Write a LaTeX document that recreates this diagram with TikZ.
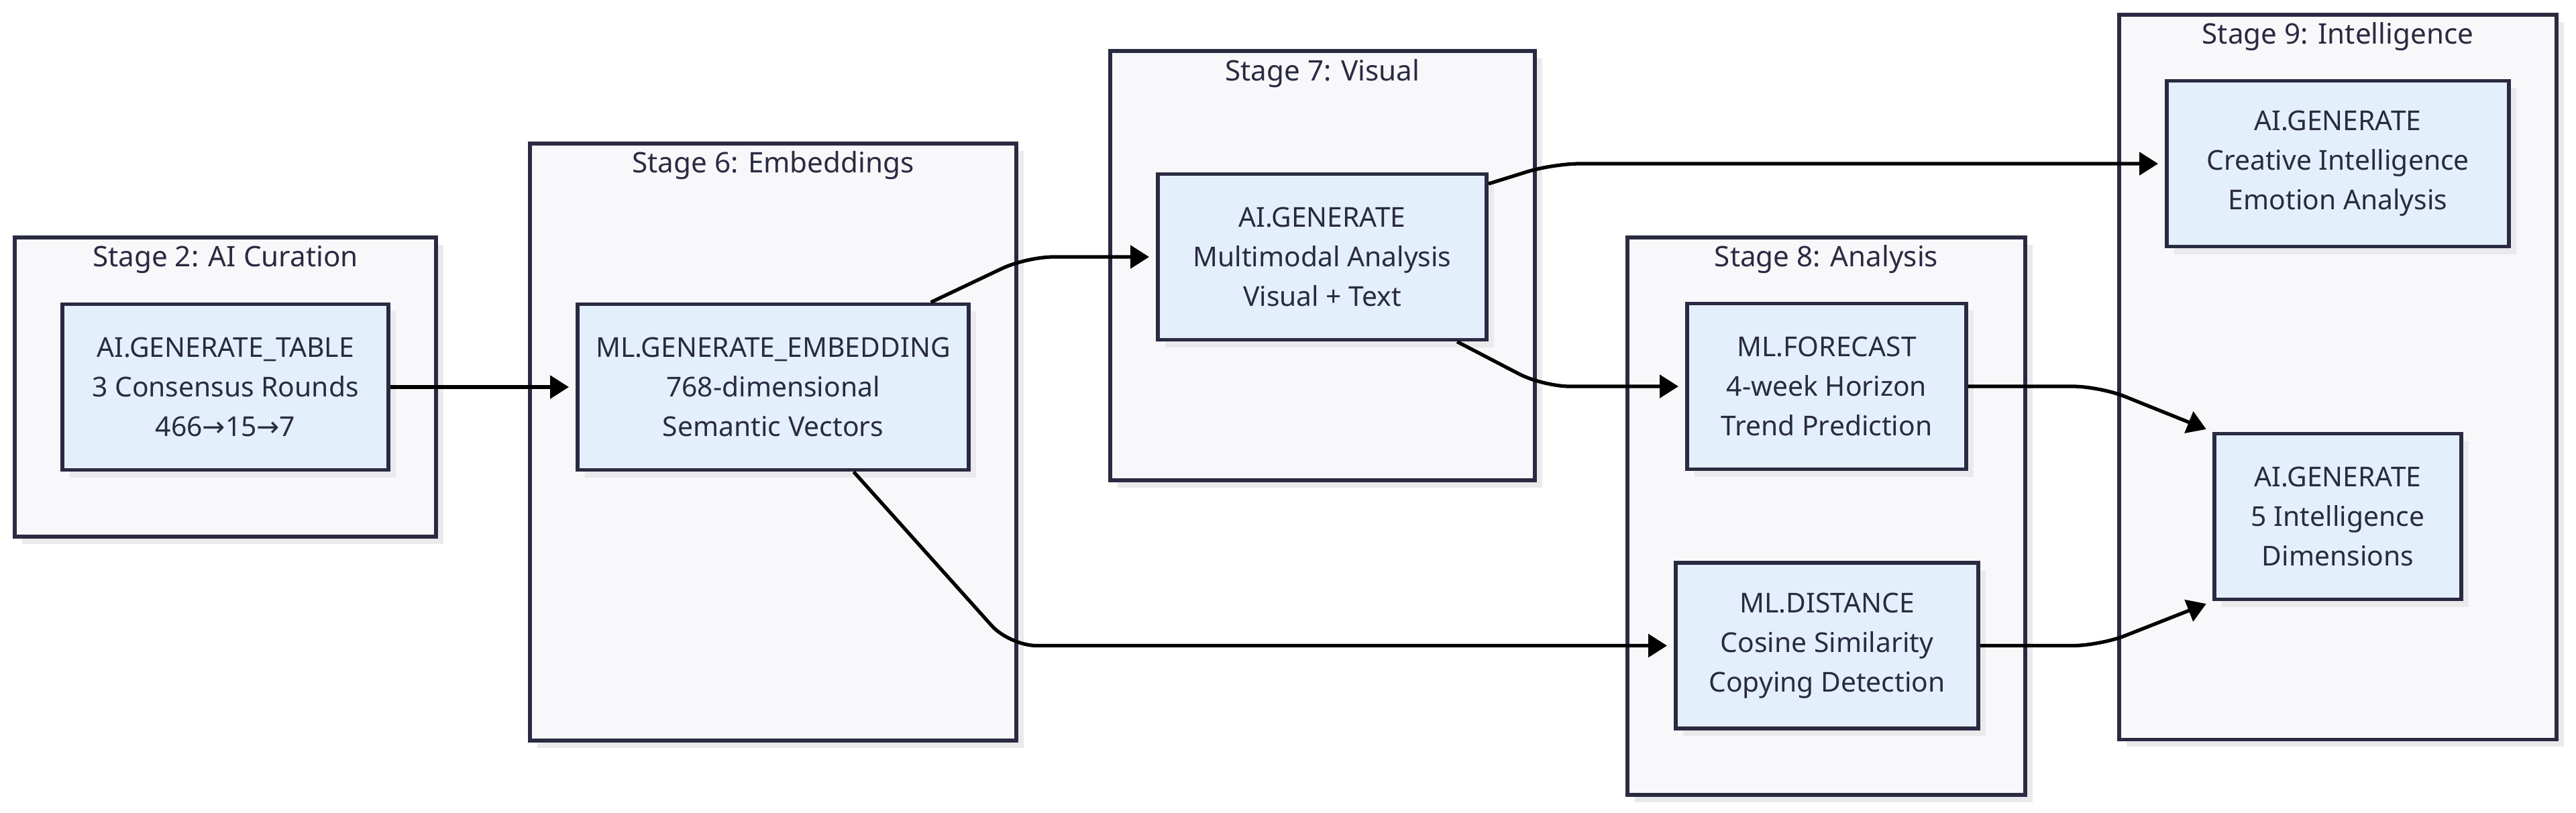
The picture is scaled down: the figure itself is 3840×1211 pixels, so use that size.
\documentclass[tikz,border=0pt]{standalone}
\usepackage{fontspec}
\setmainfont{Noto Sans}
\newfontfamily\arrowfont{DejaVu Sans}
\usetikzlibrary{arrows.meta,shadows}
\definecolor{stageback}{RGB}{248,248,250}
\definecolor{stepback}{RGB}{227,240,252}
\definecolor{inkline}{RGB}{42,42,66}
\definecolor{shadowgrey}{RGB}{234,234,237}
\tikzset{
  stage/.style={draw=inkline,line width=1.6pt,fill=stageback,inner sep=0pt,
    drop shadow={shadow xshift=0.11cm,shadow yshift=-0.11cm,fill=shadowgrey,opacity=1}},
  stagetitle/.style={text=inkline,inner sep=0pt,font=\fontsize{12}{14}\selectfont},
  stepbox/.style={draw=inkline,line width=1.6pt,fill=stepback,inner sep=0pt,align=center,
    text=inkline,font=\fontsize{11.6}{16.8}\selectfont,minimum height=2.47cm,
    drop shadow={shadow xshift=0.11cm,shadow yshift=-0.11cm,fill=shadowgrey,opacity=1}},
  flow/.style={line width=1.5pt,-{Triangle[length=0.28cm,width=0.34cm]},
    shorten >=0.1cm,rounded corners=0.4cm}
}

\begin{document}
\begin{tikzpicture}[x=0.01cm,y=-0.01cm]
\useasboundingbox (0,0) rectangle (3840,1211);

% stages
\node[stage,minimum width=6.28cm,minimum height=4.46cm] (s2) at (336,577) {};
\node[stage,minimum width=7.25cm,minimum height=8.90cm] (s6) at (1152.5,659) {};
\node[stage,minimum width=6.33cm,minimum height=6.40cm] (s7) at (1971.5,396) {};
\node[stage,minimum width=5.93cm,minimum height=8.31cm] (s8) at (2722.5,769.5) {};
\node[stage,minimum width=6.52cm,minimum height=10.80cm] (s9) at (3485,562) {};
\node[stagetitle] (t2) at ([yshift=-0.36cm]s2.north) {Stage 2: AI Curation};
\node[stagetitle] (t6) at ([yshift=-0.36cm]s6.north) {Stage 6: Embeddings};
\node[stagetitle] (t7) at ([yshift=-0.36cm]s7.north) {Stage 7: Visual};
\node[stagetitle] (t8) at ([yshift=-0.36cm]s8.north) {Stage 8: Analysis};
\node[stagetitle] (t9) at ([yshift=-0.36cm]s9.north) {Stage 9: Intelligence};

% steps
\node[stepbox,minimum width=4.86cm] (tab) at (336,577)
  {AI.GENERATE\_TABLE\\3 Consensus Rounds\\466{\arrowfont →}15{\arrowfont →}7};
\node[stepbox,minimum width=5.83cm] (emb) at (1152.5,577)
  {ML.GENERATE\_EMBEDDING\\768-dimensional\\Semantic Vectors};
\node[stepbox,minimum width=4.90cm] (vis) at (1971,383)
  {AI.GENERATE\\Multimodal Analysis\\Visual + Text};
\node[stepbox,minimum width=4.16cm] (fct) at (2723,576)
  {ML.FORECAST\\4-week Horizon\\Trend Prediction};
\node[stepbox,minimum width=4.51cm] (dst) at (2723.5,962.5)
  {ML.DISTANCE\\Cosine Similarity\\Copying Detection};
\node[stepbox,minimum width=5.10cm] (cre) at (3485,244)
  {AI.GENERATE\\Creative Intelligence\\Emotion Analysis};
\node[stepbox,minimum width=3.68cm] (dim) at (3485,770)
  {AI.GENERATE\\5 Intelligence\\Dimensions};

% flows
\draw[flow] (tab.east) -- (emb.west);
\draw[flow] ([xshift=2.35cm]emb.north) -- (1530,0 |- vis.west) -- (vis.west);
\draw[flow] ([xshift=1.2cm]emb.south) -- (1505,0 |- dst.west) -- (dst.west);
\draw[flow] ([yshift=1.09cm]vis.east) -- (2315,0 |- cre.west) -- (cre.west);
\draw[flow] ([xshift=2.01cm]vis.south) -- (2300,0 |- fct.west) -- (fct.west);
\draw[flow] (fct.east) -- (3130,0 |- fct.east) -- (dim.north west);
\draw[flow] (dst.east) -- (3130,0 |- dst.east) -- (dim.south west);
\end{tikzpicture}
\end{document}
